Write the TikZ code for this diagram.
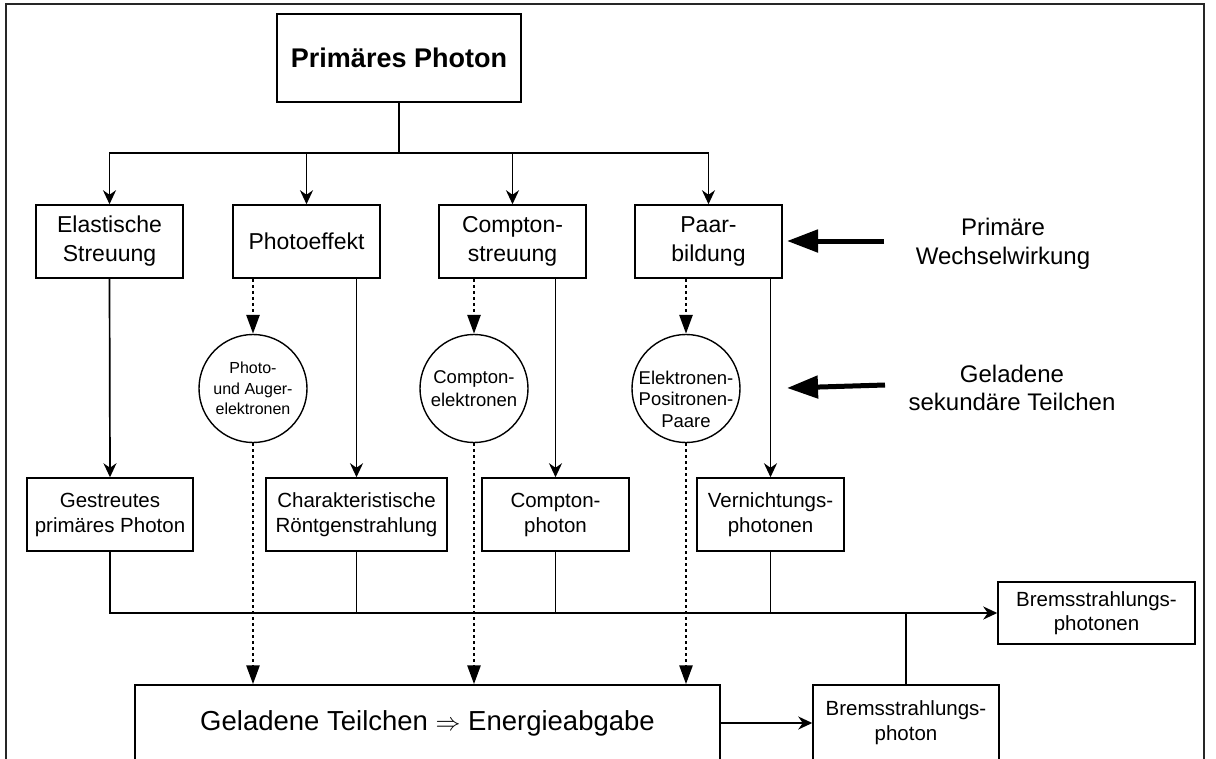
\documentclass[tikz,border=0pt]{standalone}
\usepackage{fontspec}
\setmainfont{Liberation Sans}
\usetikzlibrary{arrows.meta,shapes.geometric}
\newcommand{\fsz}[2]{\fontsize{#1}{#2}\selectfont}
\tikzset{
  box/.style={draw, line width=1.5pt, rectangle, inner sep=0pt, align=center, minimum height=73pt},
  circ/.style={draw, line width=1.4pt, circle, inner sep=0pt, align=center, minimum size=108pt},
  lvlone/.style={box, minimum width=147pt, font=\fsz{23}{29}},
  lvltwo/.style={box, font=\fsz{20.5}{25}},
  ln/.style={line width=1.7pt},
  tipS/.style={-{Stealth[length=14pt,width=13pt,inset=4.5pt]}},
  arr/.style={ln, tipS},
  dots/.style={line width=2.8pt, dash pattern=on 2.8pt off 3.2pt},
  dotarr/.style={dots, -{Triangle[length=19pt,width=13pt]}},
  bigarr/.style={line width=5pt, -{Triangle[length=31pt,width=22pt]}},
  side/.style={align=center, inner sep=0pt, font=\fsz{24}{28.5}},
}
\begin{document}
\begin{tikzpicture}[x=1pt,y=-1pt]
\useasboundingbox (0,0) rectangle (1216,758);
\clip (0,0) rectangle (1216,758);
\fill[white] (0,0) rectangle (1216,758);
% frame
\draw[line width=2pt, black!85] (5.7,780) -- (5.7,4) -- (1204,4) -- (1204,780);

% nodes
\node[box, line width=1.8pt, minimum width=244pt, minimum height=88pt, font=\bfseries\fsz{27}{32}] (prim) at (399,58) {Primäres Photon};

\node[lvlone] (el) at (109.5,241.5) {Elastische\\Streuung};
\node[lvlone] (pe) at (306.5,241.5) {Photoeffekt};
\node[lvlone] (cs) at (512.5,241.5) {Compton-\\streuung};
\node[lvlone] (pb) at (708.5,241.5) {Paar-\\bildung};

\node[circ, font=\fsz{16}{20.5}] (c1) at (253,388.5) {Photo-\\und Auger-\\elektronen};
\node[circ, font=\fsz{18.5}{23}] (c2) at (474,388.5) {Compton-\\elektronen};
\node[circ] (c3) at (686,388.5) {};
\node[align=center, inner sep=0pt, font=\fsz{18.5}{21.5}] (c3t) at (686,399) {Elektronen-\\Positronen-\\Paare};

\node[lvltwo, minimum width=166pt] (g1) at (110,514.5) {Gestreutes\\primäres Photon};
\node[lvltwo, minimum width=181pt] (g2) at (356.5,514.5) {Charakteristische\\Röntgenstrahlung};
\node[lvltwo, minimum width=147pt] (g3) at (555.5,514.5) {Compton-\\photon};
\node[lvltwo, minimum width=147pt] (g4) at (770.5,514.5) {Vernichtungs-\\photonen};

\node[box, minimum width=197pt, minimum height=62pt, font=\fsz{20.5}{24.5}] (bp1) at (1096.5,613) {Bremsstrahlungs-\\photonen};
\node[box, minimum width=585pt, minimum height=76pt, font=\fsz{27.5}{32}] (big) at (427.5,723) {Geladene Teilchen $\Rightarrow$ Energieabgabe};
\node[box, minimum width=186pt, minimum height=76pt, font=\fsz{20.5}{25}] (bp2) at (906,723) {Bremsstrahlungs-\\photon};

\node[side] (lab1) at (1003,244) {Primäre\\Wechselwirkung};
\node[side] (lab2) at (1012,388) {Geladene\\sekundäre Teilchen};

% top distribution
\coordinate (j) at (399,153);
\draw[ln] (prim.south) -- (j);
\draw[arr] (j) -| (el.north);
\draw[arr] (j) -| (pe.north);
\draw[arr] (j) -| (cs.north);
\draw[arr] (j) -| (pb.north);

% solid to level two
\draw[arr] (el.south) -- (g1.north);
\draw[arr] (pe.south -| g2.north) -- (g2.north);
\draw[arr] (cs.south -| g3.north) -- (g3.north);
\draw[arr] (pb.south -| g4.north) -- (g4.north);

% dotted to circles
\draw[dotarr] (pe.south -| c1.north) -- (c1.north);
\draw[dotarr] (cs.south -| c2.north) -- (c2.north);
\draw[dotarr] (pb.south -| c3.north) -- (c3.north);

% dotted to big box
\draw[dotarr] (c1.south) -- (c1.south |- big.north);
\draw[dotarr] (c2.south) -- (c2.south |- big.north);
\draw[dotarr] (c3.south) -- (c3.south |- big.north);

% lower bus
\draw[line width=2.4pt, tipS] (g1.south) |- (bp1.west);
\draw[ln] (g2.south) -- (g2.south |- bp1.west);
\draw[ln] (g3.south) -- (g3.south |- bp1.west);
\draw[ln] (g4.south) -- (g4.south |- bp1.west);
\draw[ln] (bp1.west -| bp2.north) -- (bp2.north);
\draw[arr] (big.east) -- (bp2.west);

% side arrows
\coordinate (t1) at (884,241);
\coordinate (h1) at (787,241);
\coordinate (t2) at (885,385);
\coordinate (h2) at (787,388);
\draw[bigarr] (t1) -- (h1);
\draw[bigarr] (t2) -- (h2);
\end{tikzpicture}
\end{document}
